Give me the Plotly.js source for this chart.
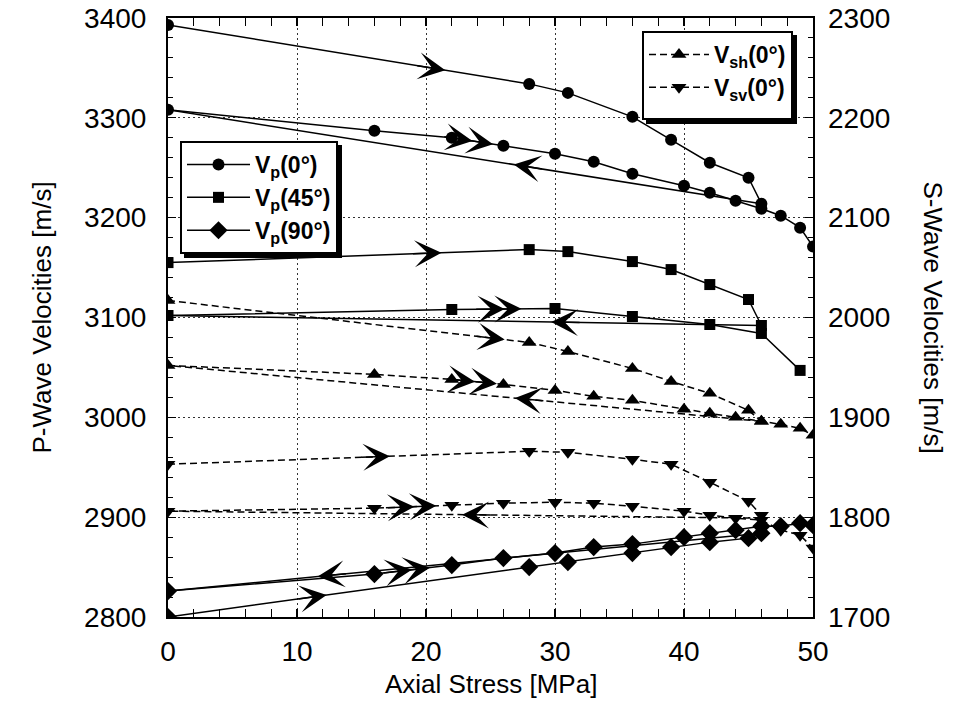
<!DOCTYPE html>
<html><head><meta charset="utf-8">
<script src="https://cdn.plot.ly/plotly-3.0.1.min.js"></script>
<style>body{margin:0;background:#fff}
.legend rect.bg, .legend2 rect.bg { filter: drop-shadow(4px 4px 0 #000); }
</style>
</head><body>
<div id="chart" style="width:959px;height:725px"></div>
<script>
// ===== DATA (axial stress in MPa, velocities in m/s) =====
// Vp(0°)
const vp0Load1X = [0, 28, 31, 36, 39, 42, 45, 46];
const vp0Load1Y = [3393, 3334, 3325, 3301, 3278, 3255, 3240, 3214];
const vp0UnloadX = [46, 0];
const vp0UnloadY = [3214, 3308];
const vp0Load2X = [0, 16, 22, 26, 30, 33, 36, 40, 42, 44, 46, 47.5, 49, 50];
const vp0Load2Y = [3308, 3287, 3280, 3272, 3264, 3256, 3244, 3232, 3225, 3217, 3209, 3202, 3190, 3171];
// Vp(45°)
const vp45Load1X = [0, 28, 31, 36, 39, 42, 45, 46];
const vp45Load1Y = [3155, 3168, 3166, 3156, 3148, 3133, 3118, 3092];
const vp45UnloadX = [46, 0];
const vp45UnloadY = [3092, 3102];
const vp45Load2X = [0, 22, 30, 36, 42, 46, 49];
const vp45Load2Y = [3102, 3108, 3109, 3101, 3093, 3084, 3047];
// Vp(90°)
const vp90Load1X = [0, 28, 31, 36, 39, 42, 45, 46];
const vp90Load1Y = [2800, 2850, 2855, 2864, 2870, 2875, 2879, 2884];
const vp90UnloadX = [46, 0];
const vp90UnloadY = [2884, 2826];
const vp90Load2X = [0, 16, 22, 26, 30, 33, 36, 40, 42, 44, 46, 47.5, 49, 50];
const vp90Load2Y = [2826, 2843, 2852, 2859, 2864, 2870, 2873, 2880, 2884, 2887, 2891, 2891, 2894, 2892];
// Vsh(0°)  (right axis)
const vshLoad1X = [0, 28, 31, 36, 39, 42, 45, 46];
const vshLoad1Y = [2017, 1975, 1966, 1949, 1936, 1924, 1907, 1896];
const vshUnloadX = [46, 0];
const vshUnloadY = [1896, 1952];
const vshLoad2X = [0, 16, 22, 26, 30, 33, 36, 40, 42, 44, 46, 47.5, 49, 50];
const vshLoad2Y = [1952, 1943, 1938, 1933, 1927, 1921, 1917, 1908, 1904, 1900, 1896, 1893, 1889, 1882];
// Vsv(0°)  (right axis)
const vsvLoad1X = [0, 28, 31, 36, 39, 42, 45, 46];
const vsvLoad1Y = [1853, 1866, 1865, 1858, 1853, 1835, 1816, 1802];
const vsvUnloadX = [46, 0];
const vsvUnloadY = [1799, 1806];
const vsvLoad2X = [0, 16, 22, 26, 30, 33, 36, 40, 42, 44, 46, 47.5, 49, 50];
const vsvLoad2Y = [1806, 1809, 1812, 1814, 1815, 1814, 1811, 1806, 1802, 1799, 1797, 1787, 1782, 1769];

// Direction-arrow positions (stress value of each arrow tip along its path)
const vp0Arrows = {load1: [21.5], load2: [23.6, 25.2], unload: [26.8]};
const vp45Arrows = {load1: [21.2], load2: [26.1, 27.4], unload: [29.7]};
const vp90Arrows = {load1: [12.3], load2: [18.9, 20.3], unload: [11.6]};
const vshArrows = {load1: [26.1], load2: [23.8, 25.5], unload: [26.9]};
const vsvArrows = {load1: [17.2], load2: [19.1, 20.8], unload: [22.8]};

const legendNames = {
  vp0: '<b>V<sub>p</sub>(0°)</b>',
  vp45: '<b>V<sub>p</sub>(45°)</b>',
  vp90: '<b>V<sub>p</sub>(90°)</b>',
  vsh: '<b>V<sub>sh</sub>(0°)</b>',
  vsv: '<b>V<sub>sv</sub>(0°)</b>'
};

// ===== LAYOUT / STYLE =====
const FONT = '"Liberation Sans", Arial, Helvetica, sans-serif';
const WIDTH = 959, HEIGHT = 725;
const M = {l: 168, r: 146, t: 18, b: 108};
const PW = WIDTH - M.l - M.r, PH = HEIGHT - M.t - M.b;
const X_RANGE = [0, 50], Y_RANGE = [2800, 3400], Y2_RANGE = [1700, 2300];

const traces = [];
const annotations = [];

function interp(xs, ys, x) {
  for (let i = 0; i < xs.length - 1; i++) {
    const x0 = xs[i], x1 = xs[i + 1];
    if (x0 !== x1 && x >= Math.min(x0, x1) && x <= Math.max(x0, x1)) {
      const t = (x - x0) / (x1 - x0);
      return {y: ys[i] + t * (ys[i + 1] - ys[i]), dx: x1 - x0, dy: ys[i + 1] - ys[i]};
    }
  }
  return null;
}

function addArrow(xs, ys, tipX, yref, yRange) {
  const r = interp(xs, ys, tipX);
  if (!r) return;
  const dxp = r.dx * PW / (X_RANGE[1] - X_RANGE[0]);
  const dyp = -r.dy * PH / (yRange[1] - yRange[0]);
  const len = Math.hypot(dxp, dyp);
  const L = 30;
  annotations.push({
    x: tipX, y: r.y, xref: 'x', yref: yref,
    ax: -dxp / len * L, ay: -dyp / len * L, axref: 'pixel', ayref: 'pixel',
    text: '', showarrow: true, arrowhead: 3, arrowsize: 3.0, arrowwidth: 1.5,
    arrowcolor: '#000', standoff: 0
  });
}

function addSeries(key, d, symbol, msize, dash, yaxis, legend, arrows) {
  const yRange = yaxis === 'y2' ? Y2_RANGE : Y_RANGE;
  const line = {color: '#000', width: 1.5, dash: dash};
  const marker = {symbol: symbol, size: msize, color: '#000', line: {width: 0}};
  traces.push({x: d.l1x, y: d.l1y, yaxis: yaxis, mode: 'lines+markers', line: line, marker: marker,
    name: legendNames[key], legend: legend, legendgroup: key, showlegend: true, hoverinfo: 'skip'});
  traces.push({x: d.ux, y: d.uy, yaxis: yaxis, mode: 'lines', line: line,
    legendgroup: key, showlegend: false, hoverinfo: 'skip'});
  traces.push({x: d.l2x, y: d.l2y, yaxis: yaxis, mode: 'lines+markers', line: line, marker: marker,
    legendgroup: key, showlegend: false, hoverinfo: 'skip'});
  arrows.load1.forEach(a => addArrow(d.l1x, d.l1y, a, yaxis, yRange));
  arrows.load2.forEach(a => addArrow(d.l2x, d.l2y, a, yaxis, yRange));
  arrows.unload.forEach(a => addArrow(d.ux, d.uy, a, yaxis, yRange));
}

const DASH = '7px,4px';
addSeries('vp0', {l1x: vp0Load1X, l1y: vp0Load1Y, ux: vp0UnloadX, uy: vp0UnloadY, l2x: vp0Load2X, l2y: vp0Load2Y},
  'circle', 12, 'solid', 'y', 'legend', vp0Arrows);
addSeries('vp45', {l1x: vp45Load1X, l1y: vp45Load1Y, ux: vp45UnloadX, uy: vp45UnloadY, l2x: vp45Load2X, l2y: vp45Load2Y},
  'square', 11, 'solid', 'y', 'legend', vp45Arrows);
addSeries('vp90', {l1x: vp90Load1X, l1y: vp90Load1Y, ux: vp90UnloadX, uy: vp90UnloadY, l2x: vp90Load2X, l2y: vp90Load2Y},
  'diamond', 14, 'solid', 'y', 'legend', vp90Arrows);
addSeries('vsh', {l1x: vshLoad1X, l1y: vshLoad1Y, ux: vshUnloadX, uy: vshUnloadY, l2x: vshLoad2X, l2y: vshLoad2Y},
  'triangle-up', 13, DASH, 'y2', 'legend2', vshArrows);
addSeries('vsv', {l1x: vsvLoad1X, l1y: vsvLoad1Y, ux: vsvUnloadX, uy: vsvUnloadY, l2x: vsvLoad2X, l2y: vsvLoad2Y},
  'triangle-down', 13, DASH, 'y2', 'legend2', vsvArrows);

// axis titles as annotations (the right one reads top-to-bottom)
const TITLE_FONT = {family: FONT, size: 26, color: '#000'};
annotations.push({xref: 'paper', yref: 'paper', x: 0.5, y: (M.t + PH - 684) / PH, xanchor: 'center', yanchor: 'middle',
  text: 'Axial Stress [MPa]', showarrow: false, font: TITLE_FONT});
annotations.push({xref: 'paper', yref: 'paper', x: (41 - M.l) / PW, y: 0.5, xanchor: 'center', yanchor: 'middle',
  text: 'P-Wave Velocities [m/s]', textangle: -90, showarrow: false, font: TITLE_FONT});
annotations.push({xref: 'paper', yref: 'paper', x: (933 - M.l) / PW, y: 0.5, xanchor: 'center', yanchor: 'middle',
  text: 'S-Wave Velocities [m/s]', textangle: 90, showarrow: false, font: TITLE_FONT});

const axisCommon = {
  ticks: 'inside', ticklen: 8, tickwidth: 1.2, tickcolor: '#000',
  showline: true, linewidth: 2, linecolor: '#000',
  zeroline: false, tickfont: {family: FONT, size: 28, color: '#000'},
  fixedrange: true
};

const layout = {
  width: WIDTH, height: HEIGHT,
  margin: M,
  paper_bgcolor: '#fff', plot_bgcolor: '#fff',
  font: {family: FONT, color: '#000'},
  showlegend: true,
  xaxis: Object.assign({}, axisCommon, {
    range: X_RANGE, dtick: 10, tick0: 0, mirror: 'allticks',
    showgrid: true, gridcolor: '#333', griddash: '2px,3px', gridwidth: 1,
    ticklabelstandoff: 8,
    minor: {dtick: 2, ticks: 'inside', ticklen: 5, tickcolor: '#000', tickwidth: 1, showgrid: false}
  }),
  yaxis: Object.assign({}, axisCommon, {
    range: Y_RANGE, dtick: 100, tick0: 2800, mirror: 'allticks',
    showgrid: true, gridcolor: '#333', griddash: '2px,3px', gridwidth: 1,
    ticklabelstandoff: 14,
    minor: {dtick: 20, ticks: 'inside', ticklen: 5, tickcolor: '#000', tickwidth: 1, showgrid: false}
  }),
  yaxis2: Object.assign({}, axisCommon, {
    range: Y2_RANGE, dtick: 100, tick0: 1700, overlaying: 'y', side: 'right',
    showgrid: false, showline: false, ticklabelstandoff: 14,
    minor: {dtick: 20, ticks: 'inside', ticklen: 5, tickcolor: '#000', tickwidth: 1, showgrid: false}
  }),
  legend: {
    x: 12 / PW, y: (617 - 141) / PH, xanchor: 'left', yanchor: 'top',
    bgcolor: '#fff', bordercolor: '#000', borderwidth: 2,
    font: {family: FONT, size: 23, color: '#000'}, itemwidth: 63, tracegroupgap: 0
  },
  legend2: {
    x: (642 - M.l) / PW, y: (617 - 31) / PH, xanchor: 'left', yanchor: 'top',
    bgcolor: '#fff', bordercolor: '#000', borderwidth: 2,
    font: {family: FONT, size: 23, color: '#000'}, itemwidth: 60, tracegroupgap: 0
  },
  annotations: annotations
};

Plotly.newPlot('chart', traces, layout, {staticPlot: true, displayModeBar: false}).then(gd => {
  // give the S-wave legend box the extra bottom padding seen in the reference
  const bg = gd.querySelector('.legend2 rect.bg');
  if (bg) {
    const h = parseFloat(bg.getAttribute('height'));
    if (!isNaN(h)) bg.setAttribute('height', h + 9);
  }
});
</script>
</body></html>
